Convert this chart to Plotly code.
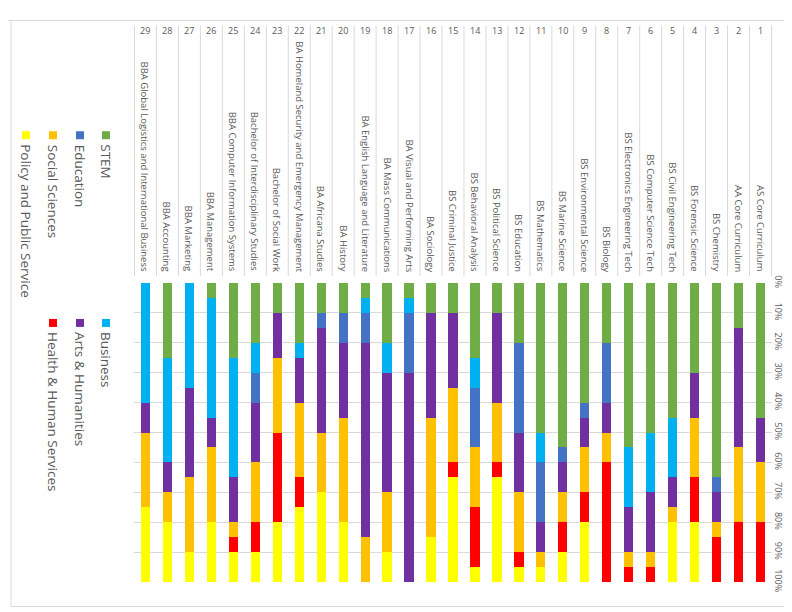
import plotly.graph_objects as go

# Program numbers (left to right as drawn) and their names
programs = [str(n) for n in range(29, 0, -1)]
names = [
    "BBA Global Logistics and International Business",
    "BBA Accounting",
    "BBA Marketing",
    "BBA Management",
    "BBA Computer Information Systems",
    "Bachelor of Interdisciplinary Studies",
    "Bachelor of Social Work",
    "BA Homeland Security and Emergency Management",
    "BA Africana Studies",
    "BA History",
    "BA English Language and Literature",
    "BA Mass Communications",
    "BA Visual and Performing Arts",
    "BA Sociology",
    "BS Criminal Justice",
    "BS Behavioral Analysis",
    "BS Political Science",
    "BS Education",
    "BS Mathematics",
    "BS Marine Science",
    "BS Environmental Science",
    "BS Biology",
    "BS Electronics Engineering Tech",
    "BS Computer Science Tech",
    "BS Civil Engineering Tech",
    "BS Forensic Science",
    "BS Chemistry",
    "AA Core Curriculum",
    "AS Core Curriculum",
]

# share of each area (%), same order as programs
stem = [0, 25, 0, 5, 25, 20, 10, 20, 10, 10, 5, 20, 5, 10, 10, 25, 10, 20, 50, 55, 40, 20, 55, 50, 45, 30, 65, 15, 45]
business = [40, 35, 35, 40, 40, 10, 0, 5, 0, 0, 5, 10, 5, 0, 0, 10, 0, 0, 10, 0, 0, 0, 20, 20, 20, 0, 0, 0, 0]
education = [0, 0, 0, 0, 0, 10, 0, 0, 5, 10, 10, 0, 20, 0, 0, 20, 0, 30, 20, 5, 5, 20, 0, 0, 0, 0, 5, 0, 0]
arts = [10, 10, 30, 10, 15, 20, 15, 15, 35, 25, 65, 40, 70, 35, 25, 0, 30, 20, 10, 10, 10, 10, 15, 20, 10, 15, 10, 40, 15]
social = [25, 10, 25, 25, 5, 20, 25, 25, 20, 35, 15, 20, 0, 40, 25, 20, 20, 20, 5, 10, 15, 10, 5, 5, 5, 20, 5, 25, 20]
health = [0, 0, 0, 0, 5, 10, 30, 10, 0, 0, 0, 0, 0, 0, 5, 20, 5, 5, 0, 10, 10, 40, 5, 5, 0, 15, 15, 20, 20]
policy = [25, 20, 10, 20, 10, 10, 20, 25, 30, 20, 0, 10, 0, 15, 35, 5, 35, 5, 5, 10, 20, 0, 0, 0, 20, 20, 0, 0, 0]

ticks = list(range(0, 101, 10))
tick_labels = [f"{t}%" for t in ticks]

series = [
    ("STEM", stem, "#70AD47"),
    ("Business", business, "#00B0F0"),
    ("Education", education, "#4472C4"),
    ("Arts & Humanities", arts, "#7030A0"),
    ("Social Sciences", social, "#FFC000"),
    ("Health & Human Services", health, "#FF0000"),
    ("Policy and Public Service", policy, "#FFFF00"),
]

W, H = 792, 612
L, R, T, B = 126, 764, 275, 574.5
FONT = "Open Sans"
GRAY = "#595959"
LINE = "#d9d9d9"


def px(x):
    return (x - L) / (R - L)


def py(y):
    return (B - y) / (B - T)


fig = go.Figure()
for name, vals, color in series:
    fig.add_trace(go.Bar(x=programs, y=vals, name=name,
                         marker=dict(color=color, line=dict(width=0)),
                         showlegend=False))

shapes = []
annotations = []

# outer chart border
shapes.append(dict(type="line", xref="paper", yref="paper", x0=px(0), x1=px(W), y0=py(12), y1=py(12), line=dict(color=LINE, width=1)))
shapes.append(dict(type="line", xref="paper", yref="paper", x0=px(3), x1=px(3), y0=py(12), y1=py(599), line=dict(color=LINE, width=1)))
shapes.append(dict(type="line", xref="paper", yref="paper", x0=px(3), x1=px(W), y0=py(599), y1=py(599), line=dict(color=LINE, width=1)))

# category table lines
for i in range(len(programs) + 1):
    shapes.append(dict(type="line", xref="x", yref="paper", x0=i - 0.5, x1=i - 0.5,
                       y0=py(17), y1=py(268), line=dict(color=LINE, width=1)))

for i, (p, n) in enumerate(zip(programs, names)):
    annotations.append(dict(x=i, xref="x", y=py(22), yref="paper", text=p, showarrow=False,
                            font=dict(family=FONT, size=9, color=GRAY), xanchor="center", yanchor="middle"))
    annotations.append(dict(x=i, xref="x", y=py(266), yref="paper", text=n, showarrow=False,
                            textangle=90, font=dict(family=FONT, size=9.5, color=GRAY),
                            xanchor="center", yanchor="bottom"))

# rotated legend
legend_pos = {
    "STEM": (98, 127), "Education": (72, 127), "Social Sciences": (45, 127),
    "Policy and Public Service": (18, 127), "Business": (98, 315),
    "Arts & Humanities": (72, 315), "Health & Human Services": (45, 315),
}
for name, vals, color in series:
    lx, ly = legend_pos[name]
    shapes.append(dict(type="rect", xref="paper", yref="paper", x0=px(lx - 4), x1=px(lx + 4),
                       y0=py(ly - 4), y1=py(ly + 4), fillcolor=color, line=dict(width=0)))
    annotations.append(dict(x=px(lx), xref="paper", y=py(ly + 7), yref="paper", text=name,
                            showarrow=False, textangle=90, font=dict(family=FONT, size=13.5, color=GRAY),
                            xanchor="center", yanchor="top"))

fig.update_layout(
    width=W, height=H,
    margin=dict(l=L, r=W - R, t=T, b=H - B, pad=0),
    paper_bgcolor="white", plot_bgcolor="white",
    barmode="stack", bargap=0.58,
    font=dict(family=FONT, color=GRAY),
    xaxis=dict(type="category", showticklabels=False, showgrid=False, zeroline=False, ticks=""),
    yaxis=dict(range=[100, 0], side="right", tickmode="array", tickvals=ticks, ticktext=tick_labels,
               tickangle=90, tickfont=dict(family=FONT, size=9, color=GRAY), automargin=False,
               showgrid=True, gridcolor=LINE, gridwidth=1, zeroline=False, showline=False),
    shapes=shapes,
    annotations=annotations,
)

fig.write_html("out.html")
